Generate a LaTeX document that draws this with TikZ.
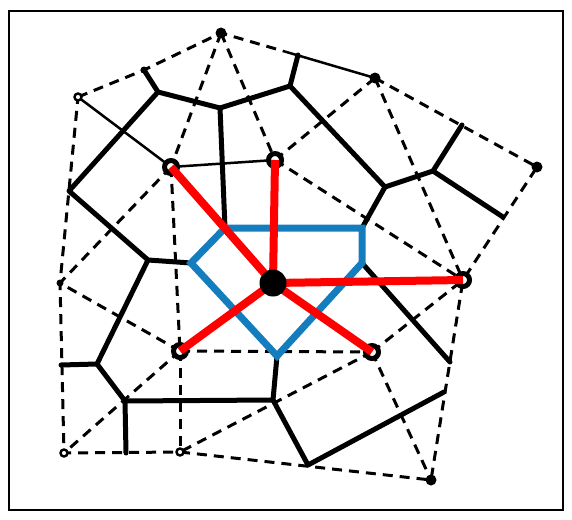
\documentclass[tikz,border=0pt]{standalone}
\definecolor{cellblue}{RGB}{20,125,190}
\definecolor{linkred}{RGB}{255,0,0}
\tikzset{
  vor/.style={line width=5pt, line cap=round, line join=round},
  del/.style={line width=3pt, dash pattern=on 10pt off 7pt},
  thinl/.style={line width=2.5pt},
  redl/.style={line width=8pt, linkred},
  cell/.style={line width=7pt, cellblue, line join=miter},
  bigdot/.style={circle, fill=black, minimum size=27pt, inner sep=0pt},
  ring/.style={circle, draw=black, line width=5pt, fill=white, minimum size=13pt, inner sep=0pt},
  spot/.style={circle, fill=black, minimum size=11pt, inner sep=0pt},
  smallspot/.style={circle, fill=black, minimum size=7pt, inner sep=0pt},
  smallring/.style={circle, draw=black, line width=2.4pt, fill=white, minimum size=7pt, inner sep=0pt},
}
\begin{document}
\begin{tikzpicture}[x=1pt,y=-1pt]
\useasboundingbox (0,0) rectangle (572,519);
\draw[line width=2pt] (9,11) rectangle (563,510);

% sites
\coordinate (A) at (221,33);
\coordinate (B) at (144,70);
\coordinate (C) at (78,97);
\coordinate (E) at (60,283);
\coordinate (F) at (64,453);
\coordinate (G) at (180,452);
\coordinate (H) at (431,480);
\coordinate (I) at (463,280);
\coordinate (P) at (537,167);
\coordinate (N) at (375,78);
\coordinate (L) at (171,167);
\coordinate (M) at (275,160);
\coordinate (O) at (273,283);
\coordinate (K) at (180,351);
\coordinate (J) at (372,352);
\coordinate (T1) at (283,51);

% Voronoi vertices
\coordinate (V1) at (158,92);
\coordinate (V2) at (220,108);
\coordinate (V3) at (290,86);
\coordinate (V3t) at (298,55);
\coordinate (V4) at (385,187);
\coordinate (V5) at (433,171);
\coordinate (Q) at (462,125);
\coordinate (R) at (503,217);
\coordinate (D) at (69,191);
\coordinate (V6) at (148,260);
\coordinate (V7) at (97,364);
\coordinate (V7e) at (61,365);
\coordinate (V8) at (125,401);
\coordinate (V8e) at (126,453);
\coordinate (V9) at (273,400);
\coordinate (V10) at (308,465);
\coordinate (V11) at (444,392);
\coordinate (V12) at (450,362);
\coordinate (c1) at (225,228);
\coordinate (c2) at (362,228);
\coordinate (c3) at (362,263);
\coordinate (c4) at (277,356);
\coordinate (c5) at (191,263);

% Delaunay hull
\draw[del] (C) -- (B) -- (A) -- (T1);
\draw[thinl] (T1) -- (N);
\draw[del] (N) -- (P) -- (I) -- (H) -- (G) -- (F) -- (E) -- (C);
% Delaunay interior
\draw[del] (A) -- (L);
\draw[del] (A) -- (M);
\draw[del] (M) -- (N);
\draw[del] (N) -- (I);
\draw[del] (M) -- (I);
\draw[del] (L) -- (K);
\draw[del] (L) -- (E);
\draw[del] (K) -- (E);
\draw[del] (K) -- (F);
\draw[del] (K) -- (G);
\draw[del] (K) -- (J);
\draw[del] (J) -- (G);
\draw[del] (J) -- (I);
\draw[del] (J) -- (H);
\draw[thinl] (C) -- (L);
\draw[thinl] (L) -- (M);

% Voronoi edges
\draw[vor] (B) -- (V1) -- (V2) -- (V3) -- (V3t);
\draw[vor] (V1) -- (D) -- (V6) -- (c5);
\draw[vor] (V2) -- (c1);
\draw[vor] (V3) -- (V4) -- (V5) -- (Q);
\draw[vor] (V5) -- (R);
\draw[vor] (V4) -- (c2);
\draw[vor] (V6) -- (V7) -- (V7e);
\draw[vor] (V7) -- (V8) -- (V8e);
\draw[vor] (V8) -- (V9) -- (c4);
\draw[vor] (V9) -- (V10) -- (V11);
\draw[vor] (c3) -- (V12);

% Voronoi cell of the centre site
\draw[cell] (c1) -- (c2) -- (c3) -- (c4) -- (c5) -- cycle;

% site markers
\node[spot] (nA) at (A) {};
\node[smallspot] (nB) at (B) {};
\node[smallring] (nC) at (C) {};
\node[smallspot] (nE) at (E) {};
\node[smallring] (nF) at (F) {};
\node[smallring] (nG) at (G) {};
\node[spot] (nH) at (H) {};
\node[spot] (nP) at (P) {};
\node[spot] (nN) at (N) {};
\node[ring] (nL) at (L) {};
\node[ring] (nM) at (M) {};
\node[ring] (nK) at (K) {};
\node[ring] (nJ) at (J) {};
\node[ring] (nI) at (I) {};

% links of the centre site
\draw[redl] (L) -- (O);
\draw[redl] (M) -- (O);
\draw[redl] (I) -- (O);
\draw[redl] (J) -- (O);
\draw[redl] (K) -- (O);
\node[bigdot] (nO) at (O) {};
\end{tikzpicture}
\end{document}
